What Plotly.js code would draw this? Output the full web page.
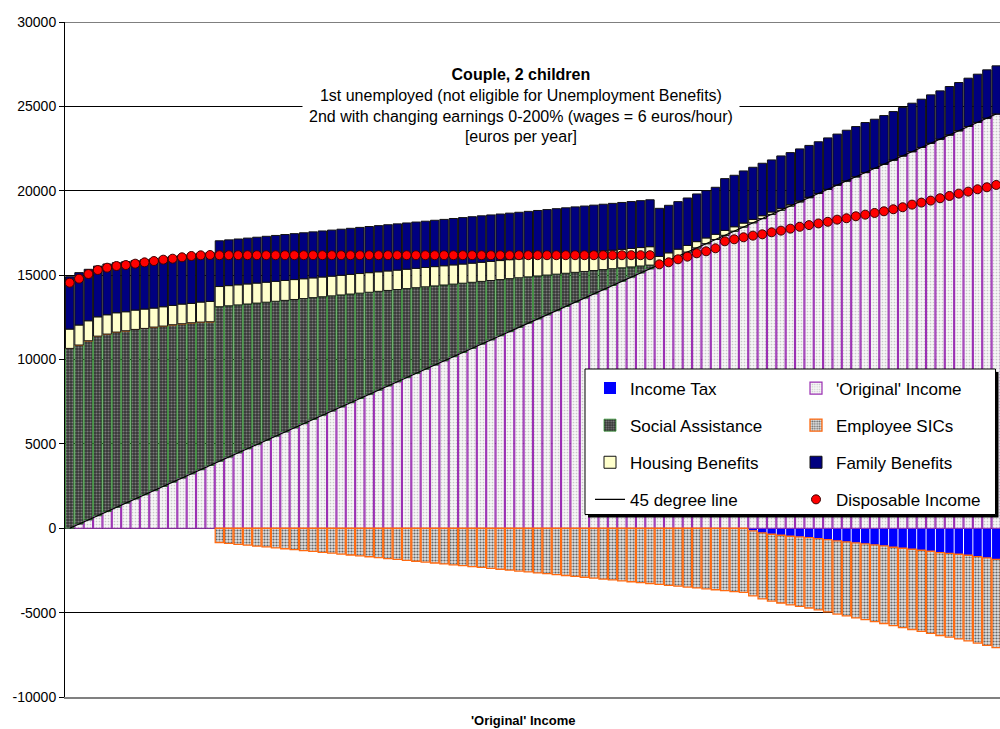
<!DOCTYPE html>
<html><head><meta charset="utf-8">
<script src="https://cdn.plot.ly/plotly-3.0.1.min.js"></script>
<style>html,body{margin:0;padding:0;overflow:hidden;background:#fff}#chart{width:1000px;height:729px}</style>
</head><body><div id="chart"></div>
<script>
// earnings of the 2nd earner, % of the wage reference (0-200%), one bar each
const earningsPct = [0,2,4,6,8,10,12,14,16,18,20,22,24,26,28,30,32,34,36,38,40,42,44,46,48,50,52,54,56,58,60,62,64,66,68,70,72,74,76,78,80,82,84,86,88,90,92,94,96,98,100,102,104,106,108,110,112,114,116,118,120,122,124,126,128,130,132,134,136,138,140,142,144,146,148,150,152,154,156,158,160,162,164,166,168,170,172,174,176,178,180,182,184,186,188,190,192,194,196,198];

const originalIncome = [0,248,496,744,992,1240,1488,1736,1984,2232,2480,2728,2976,3224,3472,3720,3968,4216,4464,4712,4960,5208,5456,5704,5952,6200,6448,6696,6944,7192,7440,7688,7936,8184,8432,8680,8928,9176,9424,9672,9920,10168,10416,10664,10912,11160,11408,11656,11904,12152,12400,12648,12896,13144,13392,13640,13888,14136,14384,14632,14880,15128,15376,15624,15872,16120,16368,16616,16864,17112,17360,17608,17856,18104,18352,18600,18848,19096,19344,19592,19840,20088,20336,20584,20832,21080,21328,21576,21824,22072,22320,22568,22816,23064,23312,23560,23808,24056,24304,24552];

const socialAssistance = [10658,10610,10615,10640,10515,10385,10216,10047,9858,9690,9501,9332,9143,8954,8746,8517,9160,8966,8771,8577,8382,8188,7994,7799,7605,7410,7216,7022,6827,6633,6438,6244,6050,5855,5661,5466,5272,5078,4883,4689,4494,4300,4106,3911,3717,3522,3328,3134,2939,2745,2550,2356,2162,1967,1773,1578,1384,1190,995,801,606,412,218,0,0,0,0,0,0,0,0,0,0,0,0,0,0,0,0,0,0,0,0,0,0,0,0,0,0,0,0,0,0,0,0,0,0,0,0];

const housingBenefits = [1145,1186,1185,1145,1145,1145,1126,1147,1148,1127,1147,1147,1167,1147,1187,1207,1197,1195,1192,1190,1188,1186,1183,1181,1179,1176,1174,1172,1169,1167,1165,1163,1160,1158,1156,1153,1151,1149,1146,1144,1142,1140,1137,1135,1133,1130,1128,1126,1123,1121,1119,1117,1114,1112,1110,1107,1105,1103,1100,1098,1096,1094,1091,480,450,420,390,370,340,310,290,260,230,200,170,140,110,80,55,30,0,0,0,0,0,0,0,0,0,0,0,0,0,0,0,0,0,0,0,0];

const familyBenefits = [3102,3103,3049,3007,3006,2967,2966,2926,2925,2925,2928,2908,2888,2927,2888,2888,2710,2712,2713,2715,2716,2718,2719,2721,2722,2724,2725,2727,2728,2730,2731,2733,2734,2736,2737,2739,2740,2742,2743,2745,2746,2748,2750,2751,2753,2754,2756,2757,2759,2760,2762,2763,2765,2766,2768,2769,2771,2772,2774,2775,2777,2778,2780,2855,2815,2815,2814,2824,2803,2783,3069,3049,3088,3087,3107,3086,3105,3085,3079,3064,3064,3043,3022,3003,2972,2962,2911,2880,2869,2858,2868,2857,2866,2855,2864,2853,2863,2852,2861,2850];

const employeeSICs = [0,0,0,0,0,0,0,0,0,0,0,0,0,0,0,0,-845,-898,-951,-1004,-1056,-1109,-1162,-1215,-1268,-1321,-1373,-1426,-1479,-1532,-1585,-1638,-1690,-1743,-1796,-1849,-1902,-1955,-2007,-2060,-2113,-2166,-2219,-2271,-2324,-2377,-2430,-2483,-2536,-2588,-2641,-2694,-2747,-2800,-2852,-2905,-2958,-3011,-3064,-3117,-3169,-3222,-3275,-3328,-3381,-3434,-3486,-3539,-3592,-3645,-3698,-3750,-3803,-3856,-3909,-3962,-4015,-4067,-4120,-4173,-4226,-4279,-4332,-4384,-4437,-4490,-4543,-4596,-4648,-4701,-4754,-4807,-4860,-4913,-4965,-5018,-5071,-5124,-5177,-5230];

const incomeTax = [0,0,0,0,0,0,0,0,0,0,0,0,0,0,0,0,0,0,0,0,0,0,0,0,0,0,0,0,0,0,0,0,0,0,0,0,0,0,0,0,0,0,0,0,0,0,0,0,0,0,0,0,0,0,0,0,0,0,0,0,0,0,0,0,0,0,0,0,0,0,0,0,0,-150,-277,-356,-415,-474,-514,-554,-613,-672,-751,-811,-870,-929,-988,-1048,-1127,-1186,-1245,-1305,-1364,-1443,-1483,-1542,-1601,-1680,-1760,-1839];

const disposableIncome = [14550,14788,15066,15302,15440,15540,15599,15678,15757,15836,15915,15974,16056,16134,16174,16193,16180,16180,16180,16180,16180,16180,16180,16180,16180,16180,16180,16180,16180,16180,16180,16180,16180,16180,16180,16180,16180,16180,16180,16180,16180,16180,16180,16180,16180,16180,16180,16180,16180,16180,16180,16180,16180,16180,16180,16180,16180,16180,16180,16180,16180,16180,16180,15640,15759,15937,16095,16293,16411,16589,17004,17123,17242,17339,17418,17537,17636,17754,17865,17964,18063,18160,18288,18370,18488,18583,18683,18783,18903,19022,19178,19298,19417,19556,19692,19829,19947,20087,20205,20344];

// 45 degree line: disposable = original income
const line45 = originalIncome;

const yTickVals = [-10000,-5000,0,5000,10000,15000,20000,25000,30000];
const yTickText = ['-10000','-5000','0','5000','10000','15000','20000','25000','30000'];

const titleLines = ['<b>Couple, 2 children</b>','1st unemployed (not eligible for Unemployment Benefits)','2nd with changing earnings 0-200% (wages = 6 euros/hour)','[euros per year]'];
const xTitle = "<b>'Original' Income</b>";

const FONT = 'Arial, "Liberation Sans", sans-serif';
// pixel -> paper helpers for the plot area (65..1000 x 22..697)
const PL = 65, PR = 1000, PT = 22, PB = 697;
const px = x => (x - PL) / (PR - PL);
const py = y => (PB - y) / (PB - PT);

function barTrace(name, y, marker, legend, grp) {
  return {type:'bar', name:name, x:earningsPct, y:y, marker:marker,
          legend:legend, legendgroup:grp, hoverinfo:'skip'};
}

const traces = [
  barTrace('Income Tax', incomeTax, {color:'#0000ff', line:{color:'#0000ff', width:0}}, 'legend', 'g1'),
  barTrace("'Original' Income", originalIncome, {color:'#f2f2f2', line:{color:'#9b30b3', width:1.2},
     pattern:{shape:'.', bgcolor:'#f6f6f6', fgcolor:'#c8c8c8', size:3, solidity:0.25}}, 'legend2', 'g2'),
  barTrace('Social Assistance', socialAssistance, {color:'#505050', line:{color:'#1c8a1c', width:0.7},
     pattern:{shape:'.', bgcolor:'#353535', fgcolor:'#7c7c7c', size:3, solidity:0.4}}, 'legend', 'g3'),
  barTrace('Employee SICs', employeeSICs, {color:'#c0c0c0', line:{color:'#ff6a10', width:1.3},
     pattern:{shape:'.', bgcolor:'#e2e2e2', fgcolor:'#666666', size:3, solidity:0.42}}, 'legend2', 'g4'),
  barTrace('Housing Benefits', housingBenefits, {color:'#ffffcc', line:{color:'#111111', width:1}}, 'legend', 'g5'),
  barTrace('Family Benefits', familyBenefits, {color:'#000080', line:{color:'#111111', width:1}}, 'legend2', 'g6'),
  {type:'scatter', mode:'lines', name:'45 degree line', x:earningsPct, y:line45,
   line:{color:'#000000', width:1.2}, legend:'legend', legendgroup:'g7', hoverinfo:'skip'},
  {type:'scatter', mode:'markers', name:'Disposable Income', x:earningsPct, y:disposableIncome,
   marker:{color:'#ff0000', size:9, line:{color:'#3a0000', width:1}}, legend:'legend2', legendgroup:'g8', hoverinfo:'skip'}
];

const legendCommon = {
  bgcolor:'rgba(0,0,0,0)', borderwidth:0, traceorder:'grouped', tracegroupgap:12,
  font:{family:FONT, size:17, color:'#000'}, xanchor:'left', yanchor:'top', y:py(370.5)
};

const layout = {
  width:1000, height:729,
  margin:{l:PL, r:0, t:PT, b:729-PB, pad:0},
  paper_bgcolor:'#ffffff', plot_bgcolor:'#ffffff',
  barmode:'relative', bargap:0.1,
  hovermode:false,
  font:{family:FONT, color:'#000'},
  xaxis:{range:[-1, 198.8], showticklabels:false, ticks:'', showgrid:false, zeroline:false,
         showline:true, linecolor:'#808080', linewidth:2, fixedrange:true},
  yaxis:{range:[-10000, 30000], tickvals:yTickVals, ticktext:yTickText,
         showgrid:true, gridcolor:'#000000', gridwidth:1,
         zeroline:true, zerolinecolor:'#000000', zerolinewidth:1,
         showline:true, linecolor:'#000000', linewidth:1,
         ticks:'outside', ticklen:5, tickcolor:'#000000', tickwidth:1,
         tickfont:{family:FONT, size:14, color:'#000'}, fixedrange:true},
  legend:Object.assign({}, legendCommon, {x:px(590)}),
  legend2:Object.assign({}, legendCommon, {x:px(796)}),
  shapes:[
    {type:'line', xref:'paper', yref:'y', x0:0, x1:1, y0:30000, y1:30000, line:{color:'#000', width:1}, layer:'below'},
    {type:'rect', xref:'paper', yref:'paper', x0:px(588), x1:px(998.5), y0:py(372), y1:py(517.5),
     fillcolor:'#000000', line:{width:0}, layer:'above'},
    {type:'rect', xref:'paper', yref:'paper', x0:px(585), x1:px(995.5), y0:py(369), y1:py(514.5),
     fillcolor:'#ffffff', line:{color:'#000000', width:1}, layer:'above'}
  ],
  annotations:[
    {xref:'paper', yref:'paper', x:px(521), y:py(105.5), xanchor:'center', yanchor:'middle',
     text:titleLines.join('<br>'), showarrow:false, align:'center',
     font:{family:FONT, size:16, color:'#000'}, bgcolor:'#ffffff', borderpad:6},
    {xref:'paper', yref:'paper', x:px(523), y:py(720), xanchor:'center', yanchor:'middle',
     text:xTitle, showarrow:false, font:{family:FONT, size:13, color:'#000'}}
  ]
};

Plotly.newPlot('chart', traces, layout, {displayModeBar:false, staticPlot:true});
</script>
</body></html>
